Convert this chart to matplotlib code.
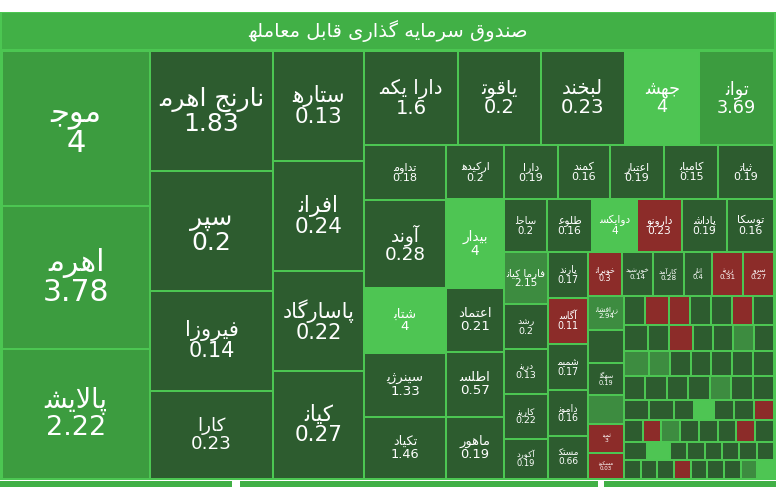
import matplotlib
matplotlib.use("Agg")
import matplotlib.pyplot as plt
from matplotlib.patches import Rectangle
from matplotlib import font_manager
from matplotlib.ft2font import FT2Font

FONT = "DejaVu Sans"
CMAP = FT2Font(font_manager.findfont(FONT)).get_charmap()

# ---------------------------------------------------------------------------
# minimal Persian shaping (matplotlib 3.10 has no complex text layout)
# ---------------------------------------------------------------------------
FORMS = {  # final, initial, medial (None -> right-joining only)
    "ا": (0xFE8E, None, None), "آ": (0xFE82, None, None),
    "ب": (0xFE90, 0xFE91, 0xFE92), "ت": (0xFE96, 0xFE97, 0xFE98),
    "ث": (0xFE9A, 0xFE9B, 0xFE9C), "ج": (0xFE9E, 0xFE9F, 0xFEA0),
    "ح": (0xFEA2, 0xFEA3, 0xFEA4), "خ": (0xFEA6, 0xFEA7, 0xFEA8),
    "د": (0xFEAA, None, None), "ذ": (0xFEAC, None, None),
    "ر": (0xFEAE, None, None), "ز": (0xFEB0, None, None),
    "س": (0xFEB2, 0xFEB3, 0xFEB4), "ش": (0xFEB6, 0xFEB7, 0xFEB8),
    "ص": (0xFEBA, 0xFEBB, 0xFEBC), "ض": (0xFEBE, 0xFEBF, 0xFEC0),
    "ط": (0xFEC2, 0xFEC3, 0xFEC4), "ظ": (0xFEC6, 0xFEC7, 0xFEC8),
    "ع": (0xFECA, 0xFECB, 0xFECC), "غ": (0xFECE, 0xFECF, 0xFED0),
    "ف": (0xFED2, 0xFED3, 0xFED4), "ق": (0xFED6, 0xFED7, 0xFED8),
    "ک": (0xFB8F, 0xFB90, 0xFB91), "گ": (0xFB93, 0xFB94, 0xFB95),
    "ل": (0xFEDE, 0xFEDF, 0xFEE0), "م": (0xFEE2, 0xFEE3, 0xFEE4),
    "ن": (0xFEE6, 0xFEE7, 0xFEE8), "ه": (0xFEEA, 0xFEEB, 0xFEEC),
    "و": (0xFEEE, None, None), "ی": (0xFBFD, 0xFBFE, 0xFBFF),
    "پ": (0xFB57, 0xFB58, 0xFB59), "چ": (0xFB7B, 0xFB7C, 0xFB7D),
    "ژ": (0xFB8B, None, None),
}
# look-alike substitutes when the font lacks a form
ALT = {0xFBFD: 0xFEF0, 0xFBFE: 0xFEF3, 0xFBFF: 0xFEF4}


def glyph(code, base):
    if code in CMAP:
        return chr(code)
    if code in ALT and ALT[code] in CMAP:
        return chr(ALT[code])
    return base


def shape(s):
    s = s.replace("لا", "\uFEFB").replace("لآ", "\uFEF5")
    out = []
    for i, c in enumerate(s):
        prev = s[i - 1] if i > 0 else ""
        jp = prev in FORMS and FORMS[prev][1] is not None
        if c in "\uFEFB\uFEF5":
            out.append(chr(ord(c) + 1) if jp else c)
            continue
        if c not in FORMS:
            out.append(c)
            continue
        nxt = s[i + 1] if i + 1 < len(s) else ""
        f = FORMS[c]
        jn = f[1] is not None and (nxt in FORMS or nxt in "\uFEFB\uFEF5")
        if jp and jn:
            out.append(glyph(f[2], c))
        elif jp:
            out.append(glyph(f[0], c))
        elif jn:
            out.append(glyph(f[1], c))
        else:
            out.append(c)  # isolated: plain letter
    return "".join(out)[::-1]


# ---------------------------------------------------------------------------
# data: (name, change %, area weight, colour code)
# ---------------------------------------------------------------------------
TITLE = "صندوق سرمایه گذاری قابل معامله"

col1 = [("موج", "4", 222, "b"), ("اهرم", "3.78", 205, "b"), ("پالایش", "2.22", 186, "b")]
col2 = [("نارنج اهرم", "1.83", 142, "d"), ("سپر", "0.2", 142, "d"),
        ("فیروزا", "0.14", 119, "d"), ("کارا", "0.23", 104, "d")]
col3 = [("ستاره", "0.13", 97, "d"), ("افران", "0.24", 97, "d"),
        ("پاسارگاد", "0.22", 88, "d"), ("کیان", "0.27", 95, "d")]
top_row = [("دارا یکم", "1.6", 86, "d"), ("یاقوت", "0.2", 75, "d"), ("لبخند", "0.23", 77, "d"),
           ("جهش", "4", 68, "l"), ("توان", "3.69", 68, "b")]
col4 = [("تداوم", "0.18", 43, "d"), ("آوند", "0.28", 70, "d"), ("شتاب", "4", 51, "l"),
        ("سینرژی", "1.33", 51, "d"), ("تکیاد", "1.46", 49, "d")]
col5 = [("ارکیده", "0.2", 30, "d"), ("بیدار", "4", 50, "l"), ("اعتماد", "0.21", 36, "d"),
        ("اطلس", "0.57", 36, "d"), ("ماهور", "0.19", 35, "d")]
row_a = [("دارا", "0.19", 28, "d"), ("کمند", "0.16", 27, "d"), ("اعتبار", "0.19", 28, "d"),
         ("کامیاب", "0.15", 28, "d"), ("ثبات", "0.19", 29, "d")]
row_b = [("ساحل", "0.2", 22, "d"), ("طلوع", "0.16", 23, "d"), ("دوایکس", "4", 23, "l"),
         ("دارونو", "0.23", 23, "r"), ("پاداش", "0.19", 23, "d"), ("توسکا", "0.16", 24, "d")]
col6 = [("فارما کیان", "2.15", 22, "m"), ("رشد", "0.2", 19, "d"), ("درین", "0.13", 19, "d"),
        ("کارین", "0.22", 19, "d"), ("آکورد", "0.19", 17, "d")]
col7 = [("پارند", "0.17", 18, "d"), ("آگاس", "0.11", 18, "r"), ("شمیم", "0.17", 18, "d"),
        ("دامون", "0.16", 18, "d"), ("مستک", "0.66", 17, "d")]
row_c_top = [("خوبران", "0.3", 14, "r"), ("خورشید", "0.14", 13, "d"), ("کارآمد", "0.28", 13, "d"),
             ("انار", "0.4", 12, "d"), ("زرین", "0.31", 13, "r"), ("سرو", "0.27", 13, "r")]
col8 = [("زرافشان", "2.94", 12, "m"), ("", "", 11, "d"), ("سهگل", "0.19", 11, "d"),
        ("", "", 10, "m"), ("ثمین", "3", 10, "r"), ("مسکون", "0.03", 9, "r")]
# tiny funds, rows of (weight, colour)
tiny_rows = [
    [(6, "d"), (7, "r"), (6, "r"), (6, "d"), (6, "d"), (6, "r"), (6, "d")],
    [(6, "d"), (5, "d"), (6, "r"), (5, "d"), (5, "d"), (5, "m"), (5, "d")],
    [(6, "m"), (5, "m"), (5, "d"), (5, "d"), (5, "d"), (5, "d"), (5, "d")],
    [(5, "d"), (5, "d"), (5, "d"), (5, "d"), (5, "m"), (5, "d"), (5, "d")],
    [(5, "d"), (5, "d"), (4, "d"), (4, "l"), (4, "d"), (4, "d"), (4, "r")],
    [(4, "d"), (4, "r"), (4, "m"), (4, "d"), (4, "d"), (4, "d"), (4, "r"), (4, "d")],
    [(4, "d"), (4, "l"), (3, "d"), (3, "d"), (3, "d"), (3, "d"), (3, "d"), (3, "d")],
    [(3, "d"), (3, "d"), (3, "d"), (3, "r"), (3, "d"), (3, "d"), (3, "d"), (3, "m"), (3, "l")],
]

COLORS = {"d": "#2d5c2f", "m": "#3d8c40", "b": "#3c9c3f", "l": "#4ec553", "r": "#8c2c29"}
EDGE = "#4cc652"


def leaves(items):
    return [("leaf", it) for it in items]


def size(node):
    kind, content = node
    if kind == "leaf":
        return content[2]
    return sum(size(c) for c in content)


def layout(node, x, y, w, h, out):
    kind, content = node
    if kind == "leaf":
        out.append((x, y, w, h, content))
        return
    total = sum(size(c) for c in content)
    pos = 0.0
    for c in content:
        frac = size(c) / total
        if kind == "h":
            layout(c, x + pos * w, y, frac * w, h, out)
        else:
            layout(c, x, y + pos * h, w, frac * h, out)
        pos += frac


tiny = ("v", [("h", leaves([("", "", s, col) for s, col in r])) for r in tiny_rows])
row_c = ("h", [("v", leaves(col6)), ("v", leaves(col7)),
               ("v", [("h", leaves(row_c_top)), ("h", [("v", leaves(col8)), tiny])])])
rest = ("v", [("h", leaves(row_a)), ("h", leaves(row_b)), row_c])
right = ("v", [("h", leaves(top_row)),
               ("h", [("v", leaves(col4)), ("v", leaves(col5)), rest])])
tree = ("h", [("v", leaves(col1)), ("v", leaves(col2)), ("v", leaves(col3)), right])

W, H = 776, 487
fig = plt.figure(figsize=(W / 100, H / 100), dpi=100)
ax = fig.add_axes([0, 0, 1, 1])
ax.set_xlim(0, W)
ax.set_ylim(H, 0)
ax.axis("off")
fig.patch.set_facecolor("white")

# header bar
ax.add_patch(Rectangle((0, 12), W, 468, facecolor=EDGE, edgecolor="none"))
ax.add_patch(Rectangle((2, 13), W - 4, 36, facecolor="#41b046", edgecolor="none"))
ax.text(W / 2, 31, shape(TITLE), ha="center", va="center", color="white",
        fontsize=14, family=FONT)

# next group strip at the bottom
for x0, x1 in [(0, 232), (240, 598), (604, W)]:
    ax.add_patch(Rectangle((x0, 481), x1 - x0, 8, facecolor="#41b046", edgecolor="none"))

tiles = []
layout(tree, 2, 51, W - 4, 428, tiles)
for x, y, w, h, (name, val, _, col) in tiles:
    ax.add_patch(Rectangle((x + 1, y + 1), w - 2, h - 2, facecolor=COLORS[col],
                           edgecolor="none"))
    fs = min(w * 0.17, h * 0.15, 22)
    if name and fs >= 3:
        ax.text(x + w / 2, y + h / 2, shape(name) + "\n" + val, ha="center", va="center",
                color="white", fontsize=fs, linespacing=1.0, family=FONT)

fig.savefig("out.png", dpi=100)
